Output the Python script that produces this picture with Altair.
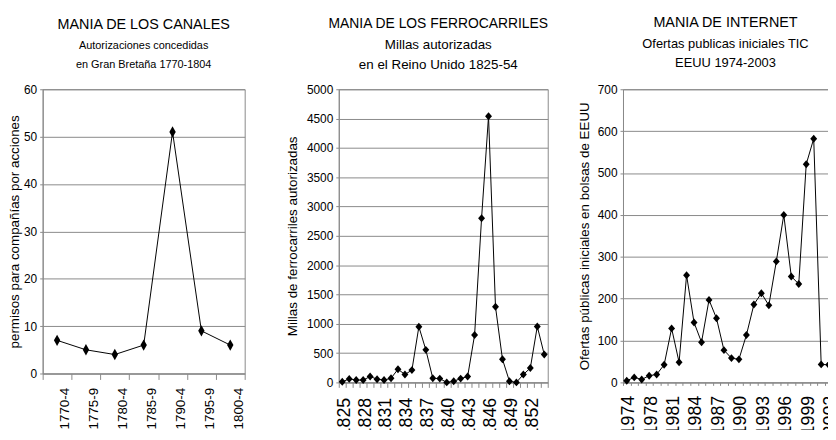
import altair as alt
import pandas as pd

# ---- data ----
canal_periods = ["1770-4", "1775-9", "1780-4", "1785-9", "1790-4", "1795-9", "1800-4"]
canal_permits = [7, 5, 4, 6, 51, 9, 6]

rail_years = ["1825", "1826", "1827", "1828", "1829", "1830", "1831", "1832", "1833", "1834",
              "1835", "1836", "1837", "1838", "1839", "1840", "1841", "1842", "1843", "1844",
              "1845", "1846", "1847", "1848", "1849", "1850", "1851", "1852", "1853", "1854"]
rail_miles = [10, 60, 40, 40, 100, 55, 40, 70, 225, 135,
              210, 950, 555, 70, 65, 0, 20, 65, 100, 810,
              2800, 4540, 1290, 395, 20, 0, 135, 245, 955, 475]
rail_shown = ["1825", "1828", "1831", "1834", "1837", "1840", "1843", "1846", "1849", "1852"]

ipo_years = ["1974", "1976", "1977", "1978", "1979", "1980", "1981", "1982", "1983", "1984",
             "1985", "1986", "1987", "1988", "1989", "1990", "1991", "1992", "1993", "1994",
             "1995", "1996", "1997", "1998", "1999", "2000", "2001", "2002", "2003"]
ipo_counts = [4, 12, 7, 16, 19, 42, 129, 48, 256, 143,
              96, 197, 153, 77, 58, 55, 113, 186, 213, 184,
              289, 400, 253, 235, 521, 582, 43, 42, 18]
ipo_shown = ["1974", "1978", "1981", "1984", "1987", "1990", "1993", "1996", "1999", "2002"]

FONT = "Liberation Sans, Arial, sans-serif"
GRID = "#8a8a8a"


def panel(cats, vals, ymax, ystep, title, sub, ytitle, w, h, shown,
          xfont, yfont, shape, msize, loff, xtick, title_size, sub_size, title_dx, tpad, lpad):
    df = pd.DataFrame({"c": cats, "v": vals})
    if shown is None:
        lexpr = "datum.label"
    else:
        arr = "[" + ",".join("'" + s + "'" for s in shown) + "]"
        lexpr = "indexof(" + arr + ", datum.label) >= 0 ? datum.label : ''"
    x = alt.X("c:N", sort=cats, bandPosition=0.5,
              scale=alt.Scale(type="band", paddingInner=0, paddingOuter=0),
              axis=alt.Axis(title=None, tickBand="extent", labelAngle=-90, labelExpr=lexpr,
                            grid=False, domainColor=GRID, tickColor=GRID, tickSize=xtick,
                            labelFont=FONT, labelFontSize=xfont, labelColor="black",
                            labelPadding=lpad, labelOffset=loff))
    y = alt.Y("v:Q", scale=alt.Scale(domain=[0, ymax], nice=False),
              axis=alt.Axis(values=list(range(0, ymax + 1, ystep)), grid=True, gridColor=GRID,
                            format="d", domainColor=GRID, tickColor=GRID, tickSize=3,
                            labelFont=FONT, labelFontSize=yfont, labelColor="black", labelPadding=3,
                            title=ytitle, titleFont=FONT, titleFontSize=13.5, titleFontWeight="normal",
                            titleColor="black", titlePadding=tpad))
    base = alt.Chart(df)
    line = base.mark_line(color="black", strokeWidth=1).encode(x=x, y=y)
    pts = base.mark_point(shape=shape, filled=True, color="black", opacity=1, size=msize).encode(x=x, y=y)
    return alt.layer(line, pts).properties(
        width=w, height=h,
        title=alt.TitleParams(text=title, subtitle=sub, font=FONT, fontSize=title_size, fontWeight="normal",
                              color="black", subtitleFont=FONT, subtitleFontSize=sub_size,
                              subtitleColor="black", subtitleLineHeight=20, subtitlePadding=7,
                              anchor="middle", frame="group", dx=title_dx, offset=12))


tall = "M0,-1L0.56,0L0,1L-0.56,0Z"
dia = "M0,-1L0.87,0L0,1L-0.87,0Z"

p1 = panel(canal_periods, canal_permits, 60, 10, "MANIA DE LOS CANALES",
           ["Autorizaciones  concedidas", "en Gran Bretaña  1770-1804"],
           "permisos para compañías  por  acciones", 204, 287, None,
           13.5, 12, tall, 132, 8, 6, 14.5, 11, 0, 2, 8)
p2 = panel(rail_years, rail_miles, 5000, 500, "MANIA DE LOS FERROCARRILES",
           ["Millas autorizadas", "en el Reino Unido 1825-54"],
           "Millas de ferrocarriles  autorizadas", 211, 296, rail_shown,
           18, 12, dia, 64, 2, 5, 14, 13.5, -5, 7, 10)
p3 = panel(ipo_years, ipo_counts, 700, 100, "MANIA  DE INTERNET",
           ["Ofertas publicas iniciales TIC", "EEUU  1974-2003"],
           "Ofertas  públicas  iniciales  en bolsas de EEUU", 219, 296, ipo_shown,
           18, 12, dia, 64, 2, 3, 14.5, 13, -6, 6, 10)

left_pair = alt.hconcat(p1, p2, spacing=39)
chart = alt.hconcat(left_pair, p3, spacing=21).properties(
    autosize=alt.AutoSizeParams(type="none"),
    padding={"left": 35, "top": 80, "right": 793, "bottom": 342}
).configure_view(stroke=GRID, strokeWidth=1)

chart.save("out.html", embed_options={"renderer": "svg", "actions": False})
